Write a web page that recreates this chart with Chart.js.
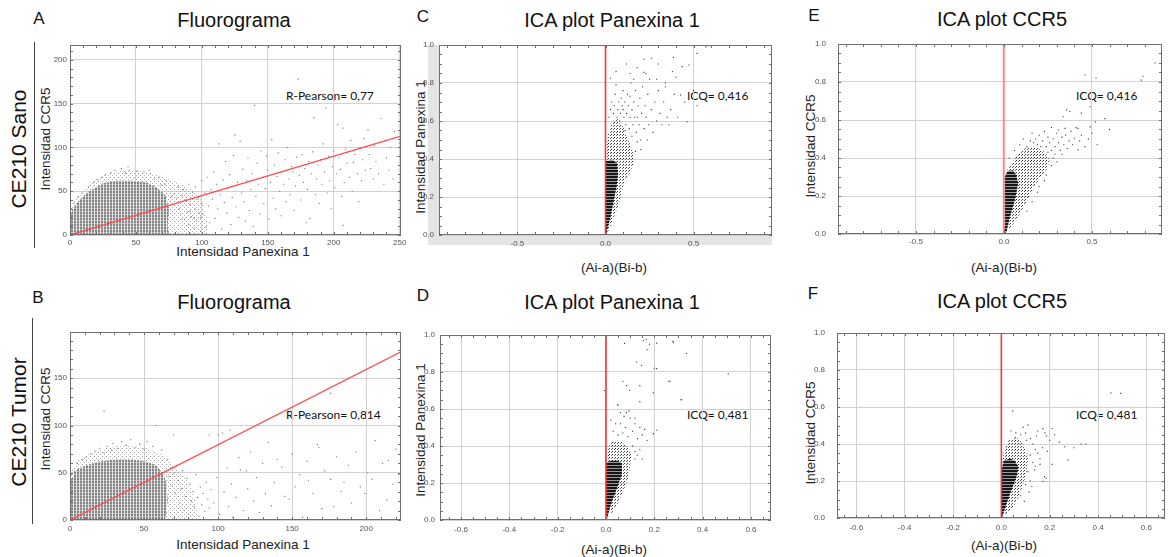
<!DOCTYPE html>
<html>
<head>
<meta charset="utf-8">
<script src="https://cdn.jsdelivr.net/npm/chart.js@4.4.0/dist/chart.umd.min.js"></script>
<style>
  body { margin: 0; background: #fff; }
  #page { position: relative; width: 1169px; height: 557px; overflow: hidden; font-family: "Liberation Sans", Arial, sans-serif; color: #111; }
  #page canvas { position: absolute; }
  .lbl { position: absolute; white-space: nowrap; transform: translate(-50%, -50%); }
  .rot { transform: translate(-50%, -50%) rotate(-90deg); }
  .title { font-size: 20px; }
  .letter { font-size: 17px; }
  .row { font-size: 21px; }
  .axis { font-size: 13.5px; color: #222; }
  .note { position: absolute; font-family: Lato, "Open Sans", sans-serif; font-size: 12px; transform: translateY(-50%); white-space: nowrap; }
  .bar { position: absolute; width: 1px; background: #444; }
</style>
</head>
<body>
<div id="page">
  <div class="lbl letter" style="left:39px;top:19px">A</div>
  <div class="lbl title" style="left:234px;top:20px">Fluorograma</div>
  <div class="lbl letter" style="left:423px;top:17px">C</div>
  <div class="lbl title" style="left:612px;top:20px">ICA plot Panexina 1</div>
  <div class="lbl letter" style="left:814px;top:16px">E</div>
  <div class="lbl title" style="left:1002px;top:19px">ICA plot CCR5</div>
  <div class="lbl letter" style="left:38px;top:298px">B</div>
  <div class="lbl title" style="left:234px;top:302px">Fluorograma</div>
  <div class="lbl letter" style="left:423px;top:296px">D</div>
  <div class="lbl title" style="left:612px;top:302px">ICA plot Panexina 1</div>
  <div class="lbl letter" style="left:813px;top:294px">F</div>
  <div class="lbl title" style="left:1002px;top:301px">ICA plot CCR5</div>

  <div class="lbl row rot" style="left:19px;top:149px">CE210 Sano</div>
  <div class="lbl row rot" style="left:19px;top:422px">CE210 Tumor</div>
  <div class="bar" style="left:34px;top:42px;height:206px"></div>
  <div class="bar" style="left:32px;top:318px;height:206px"></div>

  <div class="lbl axis rot" style="left:45px;top:139px">Intensidad CCR5</div>
  <div class="lbl axis rot" style="left:45px;top:419px">Intensidad CCR5</div>
  <div class="lbl axis rot" style="left:420px;top:147px">Intensidad Panexina 1</div>
  <div class="lbl axis rot" style="left:420px;top:430px">Intensidad Panexina 1</div>
  <div class="lbl axis rot" style="left:810px;top:146px">Intensidad CCR5</div>
  <div class="lbl axis rot" style="left:810px;top:433px">Intensidad CCR5</div>

  <div class="lbl axis" style="left:243px;top:251px">Intensidad Panexina 1</div>
  <div class="lbl axis" style="left:243px;top:544px">Intensidad Panexina 1</div>
  <div class="lbl axis" style="left:614px;top:267px">(Ai-a)(Bi-b)</div>
  <div class="lbl axis" style="left:614px;top:549px">(Ai-a)(Bi-b)</div>
  <div class="lbl axis" style="left:1004px;top:267px">(Ai-a)(Bi-b)</div>
  <div class="lbl axis" style="left:1004px;top:545px">(Ai-a)(Bi-b)</div>

  <div class="note" style="left:286px;top:95px">R-Pearson= 0,77</div>
  <div class="note" style="left:286px;top:414px">R-Pearson= 0,814</div>
  <div class="note" style="left:687px;top:95px">ICQ= 0,416</div>
  <div class="note" style="left:1076px;top:95px">ICQ= 0,416</div>
  <div class="note" style="left:687px;top:414px">ICQ= 0,481</div>
  <div class="note" style="left:1076px;top:414px">ICQ= 0,481</div>
</div>

<script>
// tick labels
const sanoFluoroXTicks = [0, 50, 100, 150, 200, 250];
const sanoFluoroYTicks = [0, 50, 100, 150, 200];
const tumorFluoroXTicks = [0, 50, 100, 150, 200];
const tumorFluoroYTicks = [0, 50, 100, 150];
const sanoIcaXTicks = [-0.5, 0, 0.5];
const tumorIcaXTicks = [-0.6, -0.4, -0.2, 0, 0.2, 0.4, 0.6];
const icaYTicks = [0, 0.2, 0.4, 0.6, 0.8, 1.0];

// A - Fluorograma, CE210 Sano  [Panexina 1, CCR5]
const sanoFluoroCore = [[0,0],[0,22],[2,29],[7,40],[12,47],[17,52],[25,59],[35,62],[47,62],[58,60],[65,55],[70,49],[73,44],[75,29],[74,10],[75,2],[75,0],[0,0]];
const sanoFluoroHalo = [[0,0],[0,30],[4,42],[10,52],[18,62],[28,70],[38,74],[48,74],[58,72],[68,68],[78,62],[88,56],[96,48],[101,36],[104,20],[105,0],[0,0]];
const sanoFluoroFit = [[0,0],[251,113]];
const sanoFluoroPoints = [
  [1,30],[3,36],[6,44],[9,48],[14,55],[18,60],[21,63],[24,66],[27,69],[31,71],[34,74],[39,76],[42,71],[45,74],[51,73],[56,72],[61,70],[64,64],[69,57],[72,58],[60,74],[44,78],[68,66],[73,62],[82,55],[86,52],[90,58],[95,55],[100,62],
  [77,44],[79,47],[81,42],[83,37],[85,45],[88,40],[91,35],[93,49],[95,30],[97,41],[100,36],[84,24],[89,26],[92,21],[98,25],[87,18],[96,16],[90,12],[94,8],[99,4],[83,30],[85,18],[91,27],[94,19],[99,20],
  [101,24],[102,48],[103,9],[104,66],[105,33],[106,14],[107,52],[108,41],[109,72],[110,19],[111,58],[112,30],[113,104],[114,46],[115,7],[116,63],[117,37],[118,84],[119,25],[120,54],
  [121,69],[122,12],[123,43],[124,91],[125,114],[126,32],[127,60],[128,20],[129,107],[130,48],[131,75],[132,38],[133,16],[134,62],[135,88],[136,28],[137,52],[138,70],[139,10],[140,148],
  [141,44],[142,82],[143,58],[144,24],[145,96],[146,66],[147,36],[148,53],[149,90],[150,74],[151,18],[152,60],[153,109],[154,42],[155,80],[156,30],[157,67],[158,94],[159,50],[160,22],
  [161,72],[162,58],[163,86],[164,38],[165,100],[166,64],[167,46],[168,78],[169,72],[170,28],[171,56],[172,89],[173,178],[174,68],[175,40],[176,92],[177,60],[178,76],[179,14],[180,52],
  [181,84],[182,19],[183,70],[184,95],[185,134],[186,46],[187,64],[188,80],[189,36],[190,86],[191,58],[192,104],[193,72],[194,145],[195,48],[196,90],[197,62],[198,30],[199,78],[200,96],
  [201,54],[202,70],[203,126],[204,88],[205,75],[206,44],[207,11],[207,122],[208,60],[209,98],[210,82],[212,66],[213,108],[214,50],[215,83],[216,92],[218,70],[219,38],[220,100],[221,62],
  [222,86],[223,110],[224,74],[226,120],[227,92],[228,76],[230,64],[231,102],[232,84],[234,70],[236,133],[238,58],[239,108],[240,88],[242,74],[243,100],[245,64],[246,118],[248,90],[250,105]
];

// B - Fluorograma, CE210 Tumor
const tumorFluoroCore = [[0,0],[0,42],[2,46],[4,53],[11,58],[20,62],[31,64],[42,64],[51,62],[58,58],[63,49],[65,39],[66,21],[65,7],[64,0],[0,0]];
const tumorFluoroHalo = [[0,0],[0,50],[5,63],[14,71],[25,77],[38,80],[50,77],[60,71],[67,63],[73,54],[78,44],[82,32],[85,18],[87,0],[0,0]];
const tumorFluoroFit = [[0,0],[223.5,178]];
const tumorFluoroPoints = [
  [1,48],[3,51],[5,60],[8,64],[11,67],[14,70],[17,73],[20,76],[23,71],[23,115],[25,78],[28,74],[29,81],[32,76],[35,83],[38,79],[41,85],[44,77],[47,80],[50,75],[52,83],[56,78],[58,100],[62,74],[66,64],[70,90],[72,58],
  [67,46],[68,55],[69,36],[70,49],[71,28],[73,42],[74,18],[75,33],[76,52],[77,10],[78,25],[79,44],[80,6],[81,38],[82,20],[83,30],[84,14],[85,48],[86,24],[87,4],[88,35],[89,16],[90,28],[91,9],[92,40],[93,22],[94,90],[94,13],[95,32],
  [97,18],[99,45],[100,90],[101,6],[103,92],[104,30],[106,55],[107,14],[108,95],[109,38],[110,3],[112,24],[114,66],[115,53],[117,10],[119,52],[120,33],[122,72],[124,20],[126,45],[128,8],[130,60],
  [132,28],[134,82],[136,15],[138,40],[140,64],[143,56],[145,25],[148,22],[150,70],[152,35],[155,48],[157,3],[160,62],[161,42],[164,28],[167,80],[168,77],[170,12],[172,52],[176,43],[176,134],
  [178,14],[180,67],[183,30],[185,40],[188,58],[190,18],[193,72],[196,35],[199,28],[201,50],[204,43],[206,84],[209,10],[211,60],[214,21],[215,63],[218,38],[220,75],[222,48]
];

// C - ICA plot Panexina 1, Sano  [(Ai-a)(Bi-b), intensidad]
const sanoPanxCore = [[0,0],[0.005,0.01],[0.025,0.08],[0.044,0.167],[0.063,0.254],[0.072,0.325],[0.066,0.377],[0.04,0.395],[0,0.39],[0,0]];
const sanoPanxHalo = [[0,0.3],[0.005,0.45],[0.015,0.53],[0.04,0.6],[0.07,0.61],[0.1,0.57],[0.13,0.5],[0.155,0.44],[0.16,0.38],[0.14,0.33],[0.11,0.29],[0.09,0.22],[0.075,0.16],[0.05,0.1],[0.03,0.05],[0.01,0.01],[0,0.3]];
const sanoPanxPoints = [
  [0.02,0.62],[0.028,0.66],[0.035,0.70],[0.028,0.825],[0.045,0.64],[0.05,0.68],[0.055,0.74],[0.06,0.79],[0.065,0.62],[0.07,0.66],[0.075,0.70],[0.08,0.6],[0.085,0.64],[0.09,0.72],[0.095,0.68],
  [0.10,0.66],[0.10,0.76],[0.105,0.62],[0.11,0.70],[0.115,0.58],[0.12,0.64],[0.125,0.74],[0.13,0.68],[0.135,0.56],[0.14,0.73],[0.14,0.62],[0.145,0.80],[0.15,0.66],[0.155,0.58],[0.16,0.70],
  [0.165,0.62],[0.17,0.76],[0.175,0.54],[0.18,0.62],[0.185,0.68],[0.19,0.58],[0.195,0.72],[0.20,0.50],[0.205,0.64],[0.21,0.78],[0.218,0.925],[0.218,0.856],[0.22,0.56],[0.225,0.68],[0.23,0.62],
  [0.237,0.50],[0.24,0.74],[0.245,0.58],[0.25,0.82],[0.26,0.66],[0.27,0.54],[0.28,0.70],[0.29,0.60],[0.29,0.82],[0.30,0.76],[0.31,0.64],[0.32,0.58],[0.33,0.70],[0.34,0.78],[0.35,0.62],
  [0.36,0.58],[0.37,0.66],[0.385,0.935],[0.39,0.74],[0.40,0.83],[0.41,0.62],[0.426,0.737],[0.436,0.886],[0.45,0.70],[0.464,0.596],[0.473,0.895],[0.50,0.76],[0.52,0.68],[0.52,0.956],[0.57,0.99],
  [0.06,0.86],[0.14,0.85],[0.23,0.85],[0.18,0.88],[0.12,0.90],[0.30,0.90],[0.26,0.93],[0.34,0.80],[0.38,0.86],[0.16,0.82],[0.17,0.44],[0.18,0.49],[0.2,0.45],[0.15,0.52],[0.11,0.55]
];

// E - ICA plot CCR5, Sano
const sanoCcr5Core = [[0,0],[0.015,0.012],[0.034,0.091],[0.0625,0.179],[0.081,0.267],[0.07,0.31],[0.05,0.335],[0.02,0.33],[0.005,0.3],[0.005,0.05],[0,0]];
const sanoCcr5Halo = [[0.005,0.28],[0.02,0.34],[0.05,0.38],[0.08,0.42],[0.12,0.45],[0.17,0.46],[0.22,0.44],[0.26,0.40],[0.25,0.35],[0.21,0.3],[0.17,0.25],[0.14,0.19],[0.11,0.14],[0.08,0.09],[0.05,0.05],[0.025,0.02],[0.005,0.28]];
const sanoCcr5Points = [
  [0.03,0.40],[0.06,0.44],[0.09,0.47],[0.11,0.50],[0.13,0.46],[0.15,0.49],[0.16,0.53],[0.17,0.48],[0.18,0.50],[0.19,0.47],[0.20,0.52],[0.21,0.46],[0.22,0.49],[0.23,0.54],[0.24,0.46],
  [0.25,0.43],[0.25,0.51],[0.26,0.48],[0.27,0.44],[0.27,0.56],[0.28,0.50],[0.29,0.46],[0.30,0.53],[0.31,0.547],[0.31,0.48],[0.32,0.44],[0.33,0.51],[0.34,0.47],[0.347,0.556],[0.35,0.52],
  [0.356,0.653],[0.36,0.45],[0.37,0.49],[0.375,0.645],[0.38,0.54],[0.39,0.47],[0.40,0.504],[0.41,0.56],[0.42,0.443],[0.42,0.556],[0.43,0.49],[0.44,0.52],[0.44,0.636],[0.46,0.837],[0.46,0.46],
  [0.48,0.50],[0.49,0.67],[0.49,0.564],[0.50,0.53],[0.52,0.59],[0.523,0.82],[0.53,0.47],[0.574,0.607],[0.60,0.55],[0.78,0.81],[0.79,0.83],[0.858,0.9],[0.337,0.617],[0.28,0.40],[0.30,0.38],
  [0.27,0.36],[0.23,0.28],[0.19,0.22],[0.16,0.17],[0.13,0.12],[0.2,0.25],[0.24,0.31],[0.29,0.42],[0.33,0.42]
];

// D - ICA plot Panexina 1, Tumor
const tumorPanxCore = [[0,0],[0.005,0.01],[0.022,0.09],[0.043,0.162],[0.063,0.235],[0.066,0.306],[0.05,0.32],[0.02,0.32],[0,0.31],[0,0]];
const tumorPanxHalo = [[0,0.3],[0.005,0.38],[0.02,0.42],[0.05,0.43],[0.08,0.41],[0.105,0.36],[0.1,0.29],[0.09,0.22],[0.07,0.15],[0.045,0.08],[0.02,0.03],[0,0.3]];
const tumorPanxPoints = [
  [0.02,0.54],[0.048,0.623],[0.095,0.59],[0.21,0.485],[0.196,0.467],[0.12,0.33],[0.168,0.977],[0.18,0.95],[0.21,0.956],[0.276,0.966],[0.334,0.9],[0.171,0.92],[0.127,0.854],[0.147,0.836],
  [0.21,0.818],[0.086,0.726],[0.14,0.726],[0.265,0.75],[0.506,0.79],[0.313,0.65],[0.196,0.687],[0.03,0.48],[0.05,0.46],[0.06,0.52],[0.07,0.47],[0.08,0.50],[0.09,0.45],[0.10,0.55],[0.11,0.48],
  [0.12,0.52],[0.13,0.44],[0.14,0.50],[0.15,0.46],[0.16,0.49],[0.17,0.43],[0.11,0.40],[0.12,0.37],[0.13,0.35],[0.14,0.38],[0.15,0.33],[0.06,0.58],[0.085,0.58],[0.12,0.55],[0.05,0.62],
  [0.14,0.64],[0.077,0.955],[0.155,0.97],[0.28,0.96],[0.2,0.82],[0.26,0.75],[0.07,0.75],[0.098,0.70],[-0.005,0.70],[0.31,0.65],[0.04,0.52],[0.075,0.56]
];

// F - ICA plot CCR5, Tumor
const tumorCcr5Core = [[0,0],[0.005,0.01],[0.022,0.079],[0.042,0.151],[0.063,0.223],[0.071,0.277],[0.055,0.31],[0.036,0.322],[0.01,0.31],[0,0.25],[0,0]];
const tumorCcr5Halo = [[0,0.25],[0.01,0.36],[0.03,0.42],[0.06,0.44],[0.09,0.40],[0.11,0.33],[0.105,0.25],[0.09,0.18],[0.07,0.11],[0.045,0.05],[0.015,0.01],[0,0.25]];
const tumorCcr5Points = [
  [0.047,0.578],[0.11,0.502],[0.186,0.444],[0.21,0.484],[0.18,0.46],[0.262,0.385],[0.275,0.314],[0.33,0.4],[0.494,0.674],[0.453,0.676],[0.179,0.224],[0.186,0.215],[0.137,0.26],
  [0.126,0.17],[0.104,0.42],[0.172,0.483],[0.145,0.443],[0.06,0.46],[0.08,0.45],[0.1,0.46],[0.12,0.43],[0.13,0.40],[0.14,0.37],[0.15,0.35],[0.16,0.32],[0.12,0.34],[0.13,0.30],[0.14,0.28],
  [0.11,0.25],[0.12,0.2],[0.115,0.14],[0.16,0.29],[0.17,0.38],[0.2,0.42],[0.22,0.45],[0.24,0.41],[0.19,0.36],[0.21,0.29],[0.172,0.197],[0.04,0.47],[0.09,0.49],[0.15,0.47],[0.3,0.38],[0.35,0.4],
  [0.08,0.12],[0.095,0.09],[0.1,0.18]
];

const icaZeroLine = [[0,0],[0,1]];

function makePattern(w, h, base, marks) {
  const c = document.createElement('canvas');
  c.width = w;
  c.height = h;
  const g = c.getContext('2d');
  if (base) {
    g.fillStyle = base;
    g.fillRect(0, 0, w, h);
  }
  marks.forEach(m => {
    g.fillStyle = m[4];
    g.fillRect(m[0], m[1], m[2], m[3]);
  });
  return g.createPattern(c, 'repeat');
}

const fluoroCoreFill = makePattern(3, 3, '#858585', [[0, 2, 2, 1, '#b8b8b8'], [2, 0, 1, 3, '#e4e4e4']]);
const fluoroHaloFill = makePattern(4, 4, null, [[0, 0, 1, 1, '#949494'], [2, 2, 1, 1, '#b4b4b4']]);
const icaCoreFill = makePattern(1, 3, '#161616', [[0, 2, 1, 1, '#9a9a9a']]);
const icaHaloFill = makePattern(3, 3, null, [[0, 0, 1, 1, '#333333'], [2, 1, 1, 1, '#666666']]);

function toXY(pts) {
    return pts.map(p => ({ x: p[0], y: p[1] }));
}

function area(pts, pattern, order) {
    return { type: 'line', data: toXY(pts), fill: 'shape', backgroundColor: pattern, borderColor: 'transparent', borderWidth: 0, pointRadius: 0, tension: 0, order };
}

function dots(pts, color) {
    return { type: 'scatter', data: toXY(pts), pointStyle: 'rect', pointRadius: 0.8, borderWidth: 0, backgroundColor: color, order: 1 };
}

function line(pts, color, width) {
    return { type: 'line', data: toXY(pts), borderColor: color, borderWidth: width, pointRadius: 0, fill: false, tension: 0, order: 0 };
}

// frame, inner tick marks and the grey bands of panel C
const framePlugin = {
    id: 'frame',
    beforeDraw(chart, args, opts) {
        if (!opts.band) return;
        const { ctx, chartArea: a } = chart;
        ctx.save();
        ctx.fillStyle = '#e4e4e4';
        ctx.fillRect(a.left - 11, a.top, 11, a.bottom - a.top + 10);
        ctx.fillRect(a.left, a.bottom, a.right - a.left, 10);
        ctx.restore();
    },
    afterDatasetsDraw(chart, args, opts) {
        const { ctx, chartArea: a, scales: { x, y } } = chart;
        ctx.save();
        ctx.strokeStyle = '#707070';
        ctx.lineWidth = 1;
        ctx.strokeRect(a.left + 0.5, a.top + 0.5, a.right - a.left - 1, a.bottom - a.top - 1);
        ctx.beginPath();
        const x0 = Math.ceil(x.min / opts.stepX - 1e-6);
        for (let i = x0; i * opts.stepX <= x.max + 1e-9; i++) {
            const px = Math.round(x.getPixelForValue(i * opts.stepX)) + 0.5;
            ctx.moveTo(px, a.top); ctx.lineTo(px, a.top + 3);
            ctx.moveTo(px, a.bottom); ctx.lineTo(px, a.bottom - 3);
        }
        const y0 = Math.ceil(y.min / opts.stepY - 1e-6);
        for (let i = y0; i * opts.stepY <= y.max + 1e-9; i++) {
            const py = Math.round(y.getPixelForValue(i * opts.stepY)) + 0.5;
            ctx.moveTo(a.left, py); ctx.lineTo(a.left + 3, py);
            ctx.moveTo(a.right, py); ctx.lineTo(a.right - 3, py);
        }
        ctx.stroke();
        ctx.restore();
    }
};

const panels = [
    { box: [70, 45, 401, 235], x: [0, 251], y: [0, 217], xTicks: sanoFluoroXTicks, yTicks: sanoFluoroYTicks, step: [10, 10], digits: 0, pad: [3, 3],
      datasets: [line(sanoFluoroFit, '#ff4d4d', 1.4), dots(sanoFluoroPoints, '#777777'), area(sanoFluoroCore, fluoroCoreFill, 2), area(sanoFluoroHalo, fluoroHaloFill, 3)] },
    { box: [70, 332, 401, 520], x: [0, 223.5], y: [0, 199], xTicks: tumorFluoroXTicks, yTicks: tumorFluoroYTicks, step: [10, 10], digits: 0, pad: [3, 4],
      datasets: [line(tumorFluoroFit, '#ff4d4d', 1.4), dots(tumorFluoroPoints, '#777777'), area(tumorFluoroCore, fluoroCoreFill, 2), area(tumorFluoroHalo, fluoroHaloFill, 3)] },
    { box: [439, 45, 772, 235], x: [-0.945, 0.945], y: [0, 1], xTicks: sanoIcaXTicks, yTicks: icaYTicks, step: [0.1, 0.05], digits: 1, pad: [5, 4], band: true,
      datasets: [line(icaZeroLine, '#ff3030', 1.6), dots(sanoPanxPoints, '#3a3a3a'), area(sanoPanxCore, icaCoreFill, 2), area(sanoPanxHalo, icaHaloFill, 3)] },
    { box: [440, 335, 771, 520], x: [-0.687, 0.683], y: [0, 1], xTicks: tumorIcaXTicks, yTicks: icaYTicks, step: [0.05, 0.05], digits: 1, pad: [5, 5],
      datasets: [line(icaZeroLine, '#ff3030', 1.6), dots(tumorPanxPoints, '#3a3a3a'), area(tumorPanxCore, icaCoreFill, 2), area(tumorPanxHalo, icaHaloFill, 3)] },
    { box: [838, 44, 1162, 234], x: [-0.943, 0.898], y: [0, 1], xTicks: sanoIcaXTicks, yTicks: icaYTicks, step: [0.1, 0.05], digits: 1, pad: [12, 3],
      datasets: [line(icaZeroLine, 'rgba(255,90,90,0.55)', 2.5), dots(sanoCcr5Points, '#3a3a3a'), area(sanoCcr5Core, icaCoreFill, 2), area(sanoCcr5Halo, icaHaloFill, 3)] },
    { box: [837, 333, 1168, 518], x: [-0.68, 0.677], y: [0, 1], xTicks: tumorIcaXTicks, yTicks: icaYTicks, step: [0.05, 0.05], digits: 1, pad: [12, 5],
      datasets: [line(icaZeroLine, '#ff3030', 1.6), dots(tumorCcr5Points, '#3a3a3a'), area(tumorCcr5Core, icaCoreFill, 2), area(tumorCcr5Halo, icaHaloFill, 3)] }
];

const tickFont = { family: '"Liberation Sans", Arial, sans-serif', size: 8 };

panels.forEach(p => {
    const [l, t, r, b] = p.box;
    const right = Math.min(8, 1169 - r);
    const cv = document.createElement('canvas');
    cv.width = r - l + 32 + right;
    cv.height = b - t + 4 + 16;
    cv.style.left = (l - 32) + 'px';
    cv.style.top = (t - 4) + 'px';
    document.getElementById('page').appendChild(cv);

    const noPad = s => { s.paddingLeft = 0; s.paddingRight = 0; s.paddingTop = 0; s.paddingBottom = 0; };

    new Chart(cv, {
        type: 'scatter',
        data: { datasets: p.datasets },
        options: {
            responsive: false,
            animation: false,
            events: [],
            layout: { padding: { top: 4, right: right, left: 0, bottom: 0 } },
            plugins: {
                legend: { display: false },
                tooltip: { enabled: false },
                frame: { stepX: p.step[0], stepY: p.step[1], band: !!p.band }
            },
            scales: {
                x: {
                    type: 'linear', min: p.x[0], max: p.x[1],
                    afterBuildTicks: s => { s.ticks = p.xTicks.map(v => ({ value: v })); },
                    afterFit: s => { s.height = 16; noPad(s); },
                    grid: { color: '#d2d2d2', drawTicks: false },
                    border: { display: false },
                    ticks: { padding: p.pad[1], font: tickFont, color: '#555', maxRotation: 0, autoSkip: false, callback: v => v.toFixed(p.digits) }
                },
                y: {
                    type: 'linear', min: p.y[0], max: p.y[1],
                    afterBuildTicks: s => { s.ticks = p.yTicks.map(v => ({ value: v })); },
                    afterFit: s => { s.width = 32; noPad(s); },
                    grid: { color: '#d2d2d2', drawTicks: false },
                    border: { display: false },
                    ticks: { padding: p.pad[0], font: tickFont, color: '#555', autoSkip: false, callback: v => v.toFixed(p.digits) }
                }
            }
        },
        plugins: [framePlugin]
    });
});
</script>
</body>
</html>
